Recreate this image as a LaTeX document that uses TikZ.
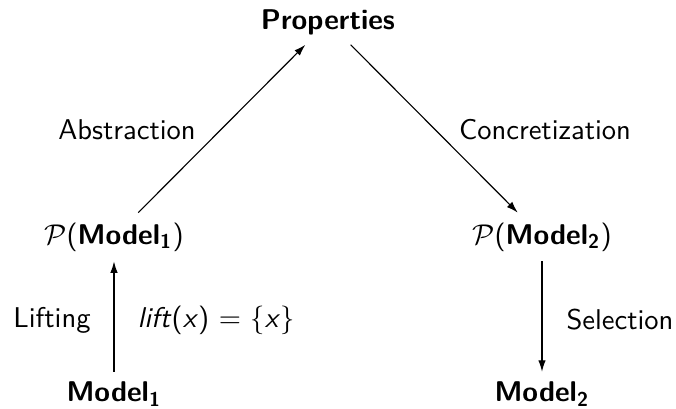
\documentclass[tikz,border=0pt]{standalone}
\usepackage{amsmath,amssymb}
\usetikzlibrary{arrows.meta}

% bold sans index, set in text so that it stays sans
\newcommand{\idx}[1]{\textsubscript{\bfseries #1}}

\begin{document}
\begin{tikzpicture}[x=0.35pt,y=-0.35pt,
  objnode/.style={font=\sffamily\bfseries},
  setnode/.style={font=\sffamily},
  maplabel/.style={font=\sffamily},
  maparrow/.style={-{Latex[length=4pt,width=2.6pt]},line width=0.4pt}
]
  \useasboundingbox (0,0) rectangle (676,408);
  % top
  \node[objnode] (props) at (328,22) {Properties};
  % powersets
  \node[setnode] (pm1) at (114,237) {$\mathcal{P}$(\textbf{Model}\idx{1})};
  \node[setnode] (pm2) at (542,237) {$\mathcal{P}$(\textbf{Model}\idx{2})};
  % models
  \node[objnode] (m1) at (114,394) {Model\idx{1}};
  \node[objnode] (m2) at (542,394) {Model\idx{2}};
  % maps
  \draw[maparrow] (m1) -- (pm1);
  \draw[maparrow] (pm1) -- (props);
  \draw[maparrow] (props) -- (pm2);
  \draw[maparrow] (pm2) -- (m2);
  % labels
  \node[maplabel] (abs) at (127,130) {Abstraction};
  \node[maplabel] (conc) at (545,130) {Concretization};
  \node[maplabel] (lift) at (52,320) {Lifting};
  \node[maplabel] (liftdef) at (216,320) {\textit{lift}(\textit{x}) $=$ $\{$\textit{x}$\}$};
  \node[maplabel] (sel) at (620,320) {Selection};
\end{tikzpicture}
\end{document}
